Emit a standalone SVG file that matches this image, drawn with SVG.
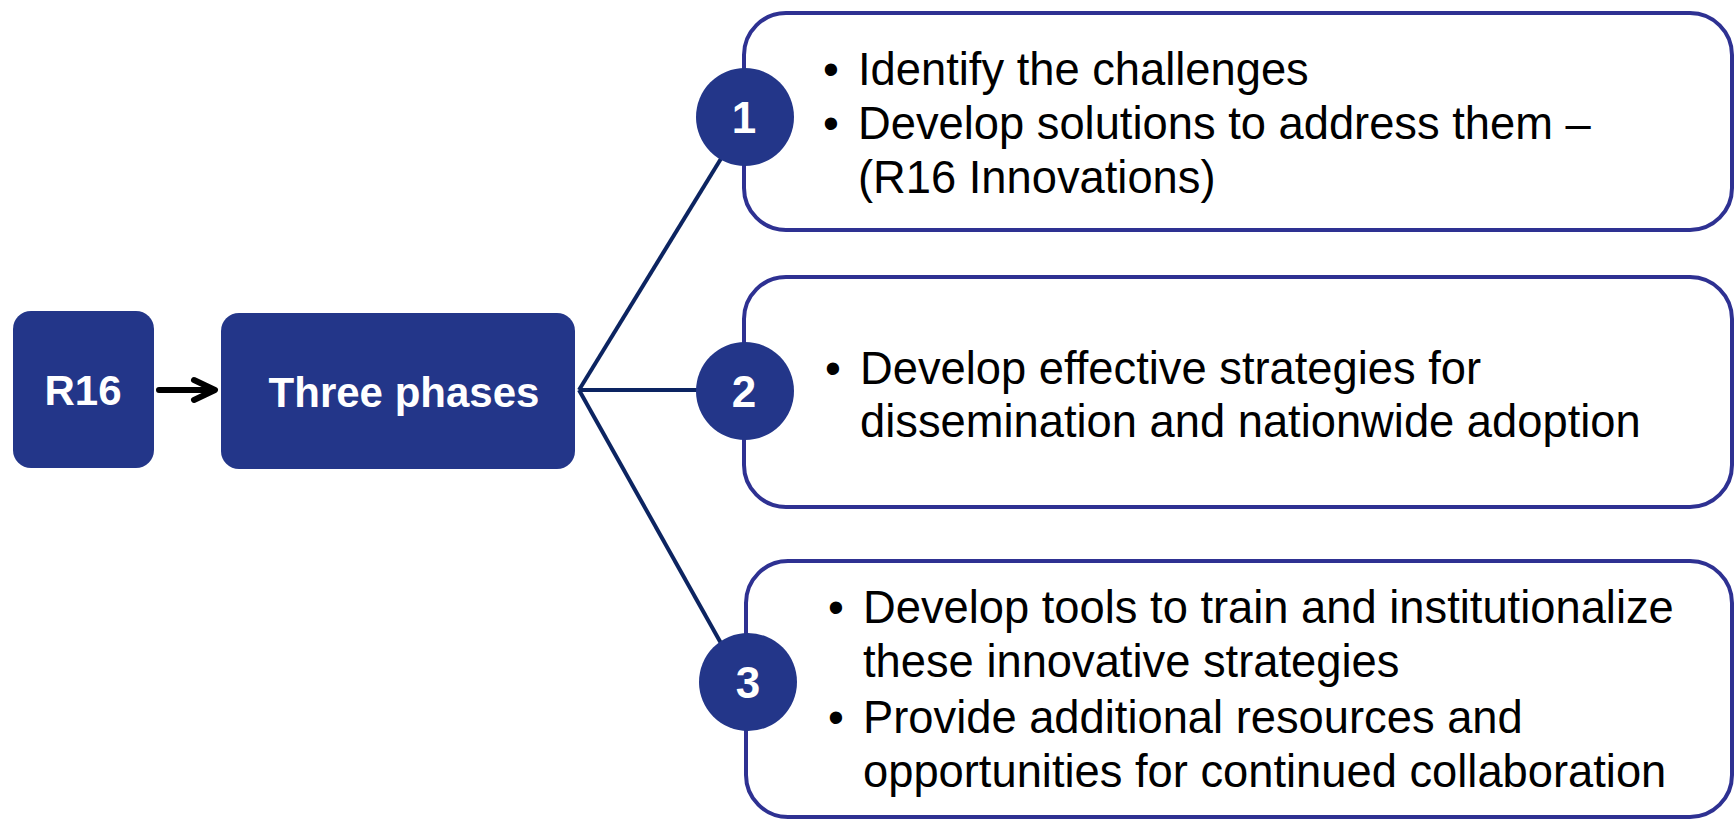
<svg xmlns="http://www.w3.org/2000/svg" width="1735" height="819" viewBox="0 0 1735 819">
<style>
.node{fill:#233689;}
.lbl{font-family:"Liberation Sans",Arial,sans-serif;font-weight:bold;fill:#ffffff;text-anchor:middle;}
.box{fill:#ffffff;stroke:#2e3192;stroke-width:4;}
.txt{font-family:"Liberation Sans",Arial,sans-serif;font-size:45.3px;fill:#000000;}
.conn{stroke:#0c2461;stroke-width:4;fill:none;}
.arrow{stroke:#000000;stroke-width:6;fill:none;stroke-linecap:round;stroke-linejoin:round;}
</style>
<g id="connectors">
<path class="arrow" d="M159,390 L214,390 M194,380 L215,390 L194,400"/>
<line class="conn" x1="579" y1="390" x2="722" y2="157"/>
<line class="conn" x1="579" y1="390" x2="700" y2="390"/>
<line class="conn" x1="579" y1="390" x2="722" y2="645"/>
</g>
<g id="r16">
<rect class="node" x="13" y="311" width="141" height="157" rx="18"/>
<text class="lbl" x="83" y="405" font-size="42">R16</text>
</g>
<g id="three-phases">
<rect class="node" x="221" y="313" width="354" height="156" rx="18"/>
<text class="lbl" x="404" y="407" font-size="42">Three phases</text>
</g>
<g id="phase1">
<rect class="box" x="744" y="13" width="988" height="217" rx="42"/>
<circle class="node" cx="745" cy="117" r="49"/>
<text class="lbl" x="744" y="133" font-size="44">1</text>
<text class="txt"><tspan x="823" y="85">•</tspan><tspan x="858" y="85">Identify the challenges</tspan><tspan x="823" y="139">•</tspan><tspan x="858" y="139">Develop solutions to address them –</tspan><tspan x="858" y="193">(R16 Innovations)</tspan></text>
</g>
<g id="phase2">
<rect class="box" x="744" y="277" width="988" height="230" rx="42"/>
<circle class="node" cx="745" cy="391" r="49"/>
<text class="lbl" x="744" y="407" font-size="44">2</text>
<text class="txt"><tspan x="825" y="384">•</tspan><tspan x="860" y="384">Develop effective strategies for</tspan><tspan x="860" y="437">dissemination and nationwide adoption</tspan></text>
</g>
<g id="phase3">
<rect class="box" x="746" y="561" width="986" height="256" rx="42"/>
<circle class="node" cx="748" cy="682" r="49"/>
<text class="lbl" x="748" y="698" font-size="44">3</text>
<text class="txt"><tspan x="828" y="623">•</tspan><tspan x="863" y="623">Develop tools to train and institutionalize</tspan><tspan x="863" y="677">these innovative strategies</tspan><tspan x="828" y="733">•</tspan><tspan x="863" y="733">Provide additional resources and</tspan><tspan x="863" y="787">opportunities for continued collaboration</tspan></text>
</g>
</svg>
